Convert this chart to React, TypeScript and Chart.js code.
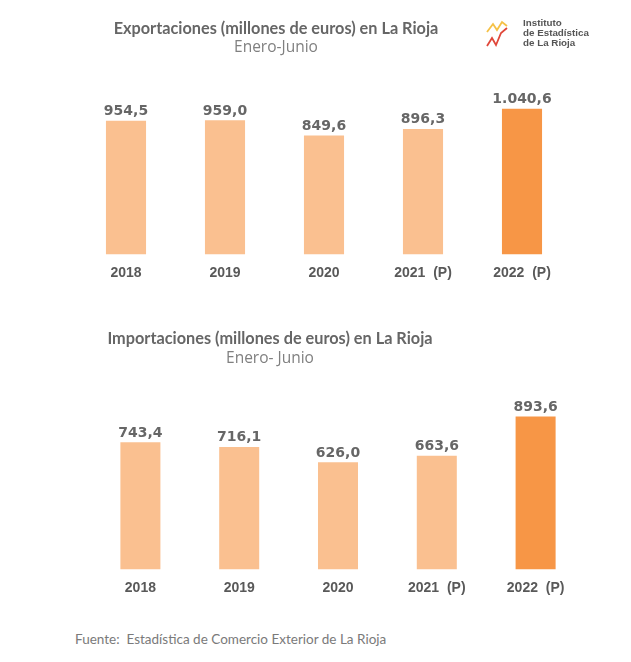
import React, { useEffect, useRef } from "react";
import { Chart, registerables } from "chart.js";

Chart.register(...registerables);

const categories = ["2018", "2019", "2020", "2021  (P)", "2022  (P)"];
const exportValues = [954.5, 959.0, 849.6, 896.3, 1040.6];
const importValues = [743.4, 716.1, 626.0, 663.6, 893.6];
const barColors = ["#FAC090", "#FAC090", "#FAC090", "#FAC090", "#F79646"];

const exportTitle = "Exportaciones (millones de euros) en La Rioja";
const exportSubtitle = "Enero-Junio";
const importTitle = "Importaciones (millones de euros) en La Rioja";
const importSubtitle = "Enero- Junio";
const sourceText = "Fuente:  Estadística de Comercio Exterior de La Rioja";

function formatEs(v: number): string {
  const fixed = v.toFixed(1);
  const [intPart, dec] = fixed.split(".");
  const grouped = intPart.replace(/\B(?=(\d{3})+(?!\d))/g, ".");
  return grouped + "," + dec;
}

const valueLabelPlugin = {
  id: "valueLabels",
  afterDatasetsDraw(chart: any) {
    const ctx = chart.ctx;
    const meta = chart.getDatasetMeta(0);
    const data = chart.data.datasets[0].data as number[];
    ctx.save();
    ctx.font = "bold 14px 'DejaVu Sans'";
    ctx.fillStyle = "#666666";
    ctx.textAlign = "center";
    ctx.textBaseline = "alphabetic";
    meta.data.forEach((el: any, i: number) => {
      ctx.fillText(formatEs(data[i]), el.x, el.y - 5.5);
    });
    ctx.restore();
  },
};

function BarChart(props: {
  values: number[];
  max: number;
  padding: { left: number; right: number; top: number; bottom: number };
  height: number;
}) {
  const ref = useRef<HTMLCanvasElement>(null);
  useEffect(() => {
    if (!ref.current) return;
    const chart = new Chart(ref.current, {
      type: "bar",
      data: {
        labels: categories,
        datasets: [
          {
            data: props.values,
            backgroundColor: barColors,
            borderWidth: 0,
            barPercentage: 0.405,
            categoryPercentage: 1,
          },
        ],
      },
      options: {
        animation: false,
        responsive: false,
        maintainAspectRatio: false,
        layout: { padding: props.padding },
        plugins: {
          legend: { display: false },
          tooltip: { enabled: false },
          title: { display: false },
        },
        scales: {
          x: {
            grid: { display: false, drawTicks: false },
            border: { display: false },
            ticks: {
              padding: 10,
              color: "#595959",
              font: { family: "'Liberation Sans', Arial", size: 14, weight: "bold" },
            },
          },
          y: {
            display: false,
            min: 0,
            max: props.max,
          },
        },
      },
      plugins: [valueLabelPlugin],
    });
    return () => chart.destroy();
  }, []);
  return <canvas ref={ref} width={631} height={props.height} style={{ display: "block", width: 631, height: props.height }} />;
}

const titleStyle: React.CSSProperties = {
  position: "absolute",
  width: 400,
  textAlign: "center",
  fontFamily: "Lato, 'Liberation Sans', sans-serif",
  fontWeight: "bold",
  fontSize: 16.3,
  color: "#666666",
  whiteSpace: "pre",
  lineHeight: "18px",
};
const subStyle: React.CSSProperties = {
  position: "absolute",
  width: 400,
  textAlign: "center",
  fontFamily: "'Open Sans', sans-serif",
  fontSize: 15.5,
  color: "#808080",
  whiteSpace: "pre",
  lineHeight: "18px",
};

function Logo() {
  return (
    <div style={{ position: "absolute", left: 484, top: 15, width: 110, height: 38 }}>
      <svg width={28} height={36} style={{ position: "absolute", left: 0, top: 0 }}>
        <polyline points="3,17 9,9 13,15 18,7 23,11" fill="none" stroke="#F5C146" strokeWidth={1.8} />
        <polyline points="3,31 8,23 12,30 17,18 23,13" fill="none" stroke="#E0473A" strokeWidth={1.8} />
      </svg>
      <div
        style={{
          position: "absolute",
          left: 39,
          top: 3,
          fontFamily: "'Liberation Sans', Arial, sans-serif",
          fontWeight: "bold",
          fontSize: 9.8,
          lineHeight: "10px",
          color: "#555555",
          whiteSpace: "pre",
        }}
      >
        {"Instituto\nde Estadística\nde La Rioja"}
      </div>
    </div>
  );
}

export default function App() {
  return (
    <div style={{ position: "absolute", left: 0, top: 0, width: 631, height: 662, background: "#ffffff", overflow: "hidden" }}>
      <div style={{ position: "absolute", left: 0, top: 0 }}>
        <BarChart
          values={exportValues}
          max={1200}
          height={300}
          padding={{ left: 76.5, right: 59.5, top: 86.5, bottom: 8.8 }}
        />
      </div>
      <div style={{ position: "absolute", left: 0, top: 300 }}>
        <BarChart
          values={importValues}
          max={1000}
          height={330}
          padding={{ left: 91, right: 46, top: 98.3, bottom: 23.8 }}
        />
      </div>
      <div style={{ ...titleStyle, left: 76, top: 19 }}>{exportTitle}</div>
      <div style={{ ...subStyle, left: 76, top: 37 }}>{exportSubtitle}</div>
      <div style={{ ...titleStyle, left: 70, top: 329 }}>{importTitle}</div>
      <div style={{ ...subStyle, left: 70, top: 348 }}>{importSubtitle}</div>
      <Logo />
      <div
        style={{
          position: "absolute",
          left: 75,
          top: 630,
          fontFamily: "Lato, 'Liberation Sans', sans-serif",
          fontSize: 13.5,
          color: "#7a7a7a",
          whiteSpace: "pre",
          lineHeight: "18px",
        }}
      >
        {sourceText}
      </div>
    </div>
  );
}
